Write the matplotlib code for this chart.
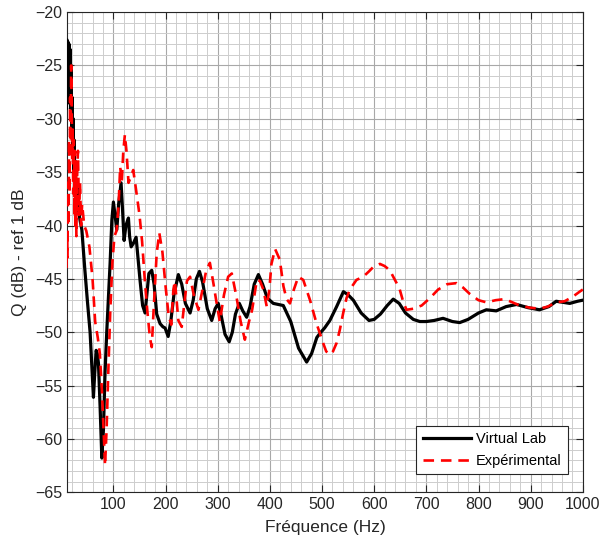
import numpy as np
import matplotlib
matplotlib.use("Agg")
import matplotlib.pyplot as plt
from matplotlib.ticker import MultipleLocator

plt.rcParams['font.family'] = ['Liberation Sans', 'DejaVu Sans']

# Virtual Lab simulation
freq_vl = [10, 11, 12, 13, 14, 15, 16, 17, 18, 19, 20, 21, 22, 23, 24, 25, 26, 27, 28, 30,
           33, 36, 39.5, 45, 50, 55.3, 61.7, 64, 66.9, 69, 71.3, 74.5, 77.8, 80.8, 84, 87.4,
           93.7, 97, 100, 103, 106.5, 110, 114.7, 117.5, 120.5, 124, 128.8, 131, 134, 138,
           143.5, 147, 151, 156, 160.7, 164, 168, 173.5, 178, 183, 189.5, 195, 199, 205,
           210, 216, 224.5, 231, 238, 247, 253, 259, 265, 271, 280, 288.5, 295, 301, 306,
           314, 322, 328, 334, 341.4, 348, 355.5, 362, 370, 378, 386, 395, 406.5, 416,
           425.7, 440, 455, 470.5, 480, 490, 496, 505, 515, 528, 541, 550, 560, 575, 590,
           600, 612, 625, 636.5, 648, 660, 675, 687.5, 700, 715, 732, 750, 764, 780, 800,
           815, 834, 853, 873, 895, 917, 935, 949, 962, 975, 990, 1000]
q_vl = [-29, -22.6, -27.5, -22.8, -28.5, -23, -28, -23.5, -29, -25, -31, -28, -33, -30,
        -35.5, -32, -36, -34, -37.5, -36, -38.5, -39.5, -40.4, -44, -47, -50, -56.1, -54,
        -51.7, -52, -52.9, -57, -61.8, -59.2, -53.7, -49.8, -43.5, -39.5, -37.8, -39,
        -40.4, -38, -36.0, -38.5, -41.4, -40, -39.3, -41, -42, -41.7, -41.1, -43, -45.1,
        -47.5, -48.2, -46.5, -44.5, -44.2, -45.5, -48.3, -49.2, -49.5, -49.6, -50.4, -49,
        -46.5, -44.6, -45.5, -47.3, -48.2, -47, -45, -44.3, -45.3, -47.8, -48.9, -47.8,
        -47.3, -48.3, -50.2, -50.9, -50, -48.3, -47.3, -48, -48.6, -47.6, -45.5, -44.6,
        -45.5, -46.8, -47.3, -47.4, -47.5, -49, -51.5, -52.8, -52, -50.5, -50.1, -49.6,
        -48.9, -47.6, -46.2, -46.5, -47, -48.2, -48.9, -48.8, -48.3, -47.5, -46.9, -47.3,
        -48.2, -48.8, -49, -49, -48.9, -48.7, -49, -49.1, -48.8, -48.2, -47.9, -48,
        -47.6, -47.4, -47.7, -47.9, -47.6, -47.1, -47.2, -47.3, -47.1, -47]

# measurements
freq_exp = [10, 11, 12, 13, 14, 15, 16, 17, 18, 19, 20, 21, 22, 23, 24, 25, 26, 27, 28,
            29, 30, 32, 34, 36, 38, 40, 44, 48, 54, 60, 65, 70, 74, 78, 81, 84, 87, 90,
            94, 98, 102, 106, 110, 113, 116, 119, 122, 125, 129, 133, 138, 143, 150, 155,
            160, 165, 170, 173.5, 177, 183, 188, 194, 200, 206, 211, 215, 218, 224.5, 231,
            236, 241, 247, 254, 263, 270, 278, 285, 292, 298, 304, 312, 320, 327, 336,
            344, 352, 360, 366, 375, 381, 387.5, 394, 399, 403, 410, 419, 426, 432,
            438.5, 446, 454.5, 464, 477, 489.6, 502, 508, 515, 521, 528, 534, 540.6, 547,
            553.4, 566, 579, 590, 598, 611, 620, 630, 643, 649, 656, 662, 675, 691, 707,
            722.6, 740, 758, 770, 783, 800, 815, 833, 850, 865, 879, 898, 917, 933, 949,
            965, 980, 994, 1000]
q_exp = [-44, -41, -43, -36, -40, -32, -37, -28, -33, -25, -29, -34, -31, -37, -32, -39,
         -33, -40, -34, -41, -36, -33, -39, -36, -40, -38, -40, -40.5, -42, -45, -49,
         -50.5, -52, -55.5, -59, -62.5, -59, -54, -48, -43.5, -41, -40.5, -38, -34.5, -36,
         -33, -31.5, -33, -36, -35.5, -34.8, -36.5, -39, -41.5, -45, -48, -50.5, -51.4,
         -48, -42.6, -40.7, -42.5, -45.7, -48.5, -49.3, -46, -45.2, -48.9, -49.5, -47.3,
         -45.2, -44.8, -46.5, -47.9, -46.2, -44.2, -43.5, -45.5, -47.3, -49, -46.5,
         -44.8, -44.5, -46.7, -49, -50.7, -49, -47.9, -45.1, -45.2, -46, -47.6, -46,
         -43.6, -42.2, -43.2, -45.7, -46.9, -47.3, -46, -44.8, -45.1, -47, -49.2, -51,
         -51.8, -52.1, -51.8, -51, -49.8, -48.2, -46.8, -46, -45.1, -44.8, -44.3, -43.9,
         -43.6, -43.8, -44.2, -45.4, -46, -47.2, -47.9, -47.8, -47.5, -46.8, -46, -45.5,
         -45.4, -45.8, -46.4, -47, -47.2, -47, -46.9, -47.2, -47.5, -47.7, -47.8, -47.6,
         -47.2, -47.1, -46.7, -46.2, -46]

x_ticks = np.arange(100, 1001, 100)
y_ticks = np.arange(-65, -19, 5)

fig = plt.figure(figsize=(6.09, 5.5), dpi=100)
ax = fig.add_axes([0.110, 0.105, 0.847, 0.873])

ax.plot(freq_vl, q_vl, color='black', lw=2.3, label='Virtual Lab', zorder=3)
ax.plot(freq_exp, q_exp, color='red', lw=1.9, dashes=(4, 2.6), label='Expérimental', zorder=4)

ax.set_xlim(11, 1000)
ax.set_ylim(-65, -20)
ax.set_xticks(x_ticks)
ax.set_yticks(y_ticks)
ax.xaxis.set_minor_locator(MultipleLocator(20))
ax.yaxis.set_minor_locator(MultipleLocator(1))

ax.grid(which='major', color='#a8a8a8', lw=0.8)
ax.grid(which='minor', color='#cdcdcd', lw=0.7)
ax.set_axisbelow(True)

ax.tick_params(which='major', direction='in', length=5, width=0.8, top=True, right=True,
               labelsize=11.5, colors='#262626')
ax.tick_params(which='minor', length=0, top=True, right=True)
for s in ax.spines.values():
    s.set_color('#262626')
    s.set_linewidth(0.8)

ax.set_xlabel('Fréquence (Hz)', fontsize=12.5, color='#262626', labelpad=6)
ax.set_ylabel('Q (dB) - ref 1 dB', fontsize=12.5, color='#262626', labelpad=6)

leg = ax.legend(loc='lower right', bbox_to_anchor=(0.971, 0.0375), borderaxespad=0,
                fancybox=False, framealpha=1, edgecolor='#262626', fontsize=10.5,
                handlelength=3.3, handletextpad=0.3, borderpad=0.45, labelspacing=0.5)
leg.get_frame().set_linewidth(0.8)

fig.savefig('out.png', dpi=100)
